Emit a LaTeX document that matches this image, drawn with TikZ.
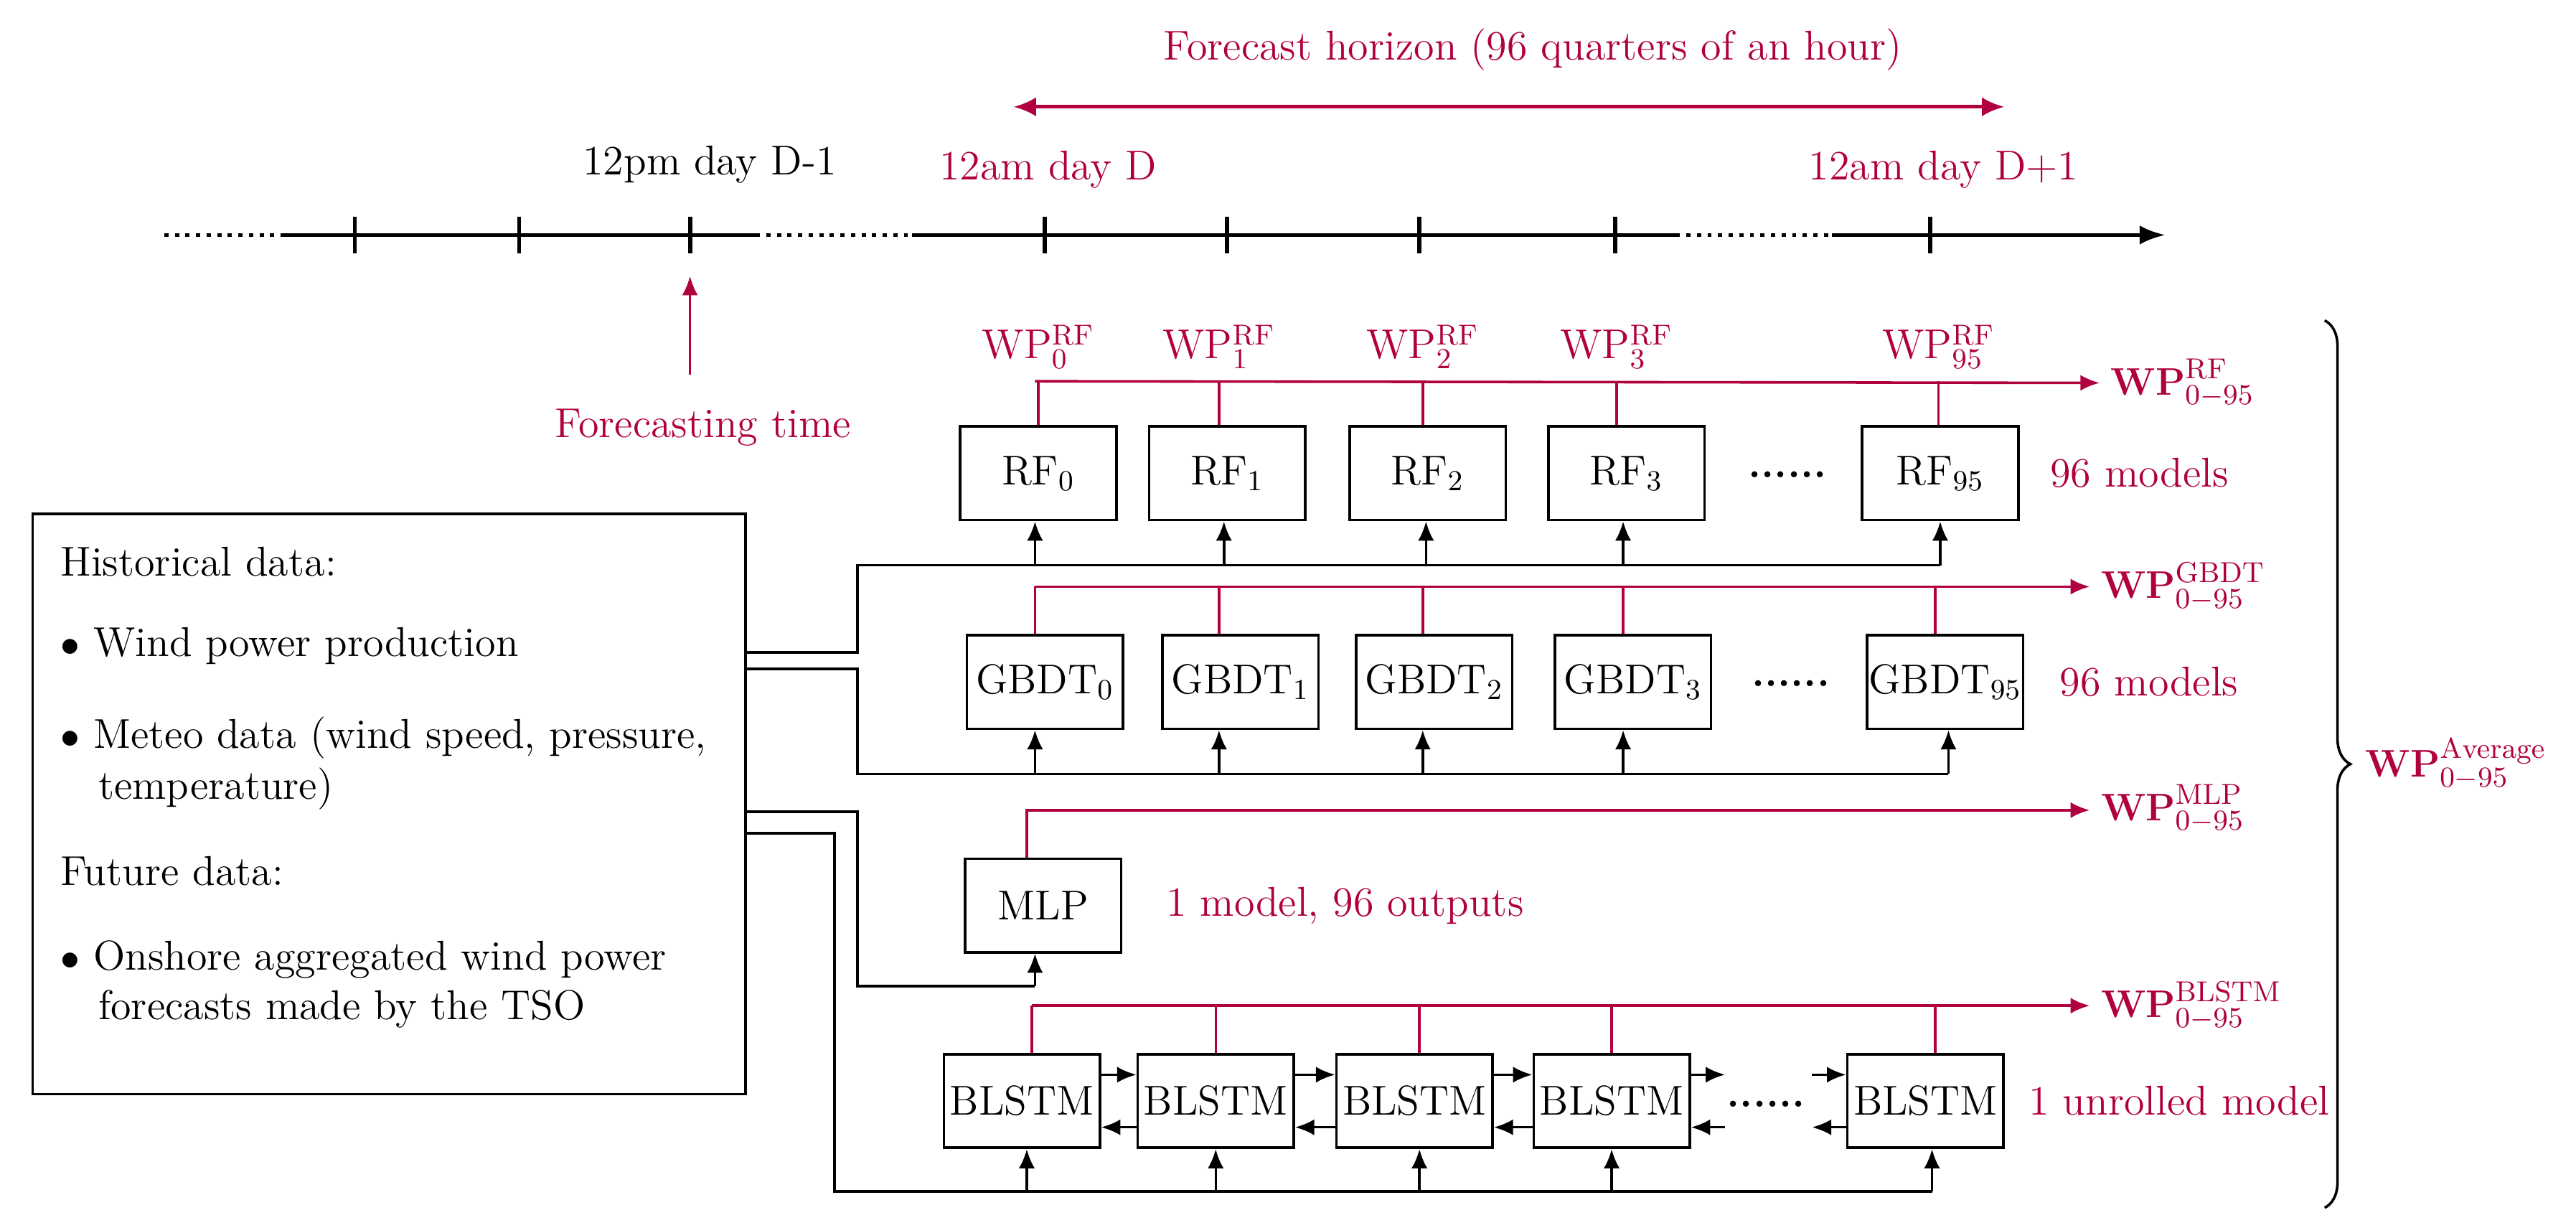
\documentclass[tikz,border=0pt]{standalone}
\usetikzlibrary{arrows.meta,decorations.pathreplacing}
\definecolor{cr}{RGB}{176,0,64}
\begin{document}
\begin{tikzpicture}[x=0.018cm,y=-0.018cm,font=\fontsize{13}{16}\selectfont,
 bx/.style={draw,thick,minimum width=95*0.018cm,minimum height=57*0.018cm,inner sep=0pt},
 rl/.style={cr,thick},
 ar/.style={thick,-{Latex[length=6pt,width=5pt]}},
 tl/.style={line width=1.3pt},
 dt/.style={line width=1.3pt,dotted}]
\useasboundingbox (0,0) rectangle (1568,747);
% timeline
\coordinate (t0) at (100,143); \coordinate (t1) at (173,143); \coordinate (t2) at (460,143);
\coordinate (t3) at (555,143); \coordinate (t4) at (1020,143); \coordinate (t5) at (1115,143);
\coordinate (t6) at (1318,143);
\draw[dt] (t0)--(t1); \draw[tl] (t1)--(t2); \draw[dt] (t2)--(t3); \draw[tl] (t3)--(t4);
\draw[dt] (t4)--(t5); \draw[tl,-{Latex[length=8pt,width=6pt]}] (t5)--(t6);
\foreach \x in {216,316,420,636,747,864,983,1175} \draw[tl] (\x,132)--(\x,154);
\node (l1) at (432,100) {12pm day D-1};
\node[cr] (l2) at (638,103) {12am day D};
\node[cr] (l3) at (1183,103) {12am day D+1};
\coordinate (h0) at (617,65); \coordinate (h1) at (1220,65);
\draw[cr,line width=1.1pt,{Latex[length=7pt,width=6pt]}-{Latex[length=7pt,width=6pt]}] (h0)--(h1);
\node[cr] (hl) at (933,30) {Forecast horizon (96 quarters of an hour)};
\node[cr] (ft) at (428,260) {Forecasting time};
\coordinate (fa) at (420,168);
\draw[ar,cr] (420,228) -- (fa);
% big box
\node[draw,thick,minimum width=434*0.018cm,minimum height=353*0.018cm,anchor=north west,inner sep=0pt] (hb) at (19,312) {};
\node[anchor=west] (h1t) at (30,342) {Historical data:};
\node[anchor=west] (h2t) at (30,393) {$\bullet$\ Wind power production};
\node[anchor=west] (h3t) at (30,449) {$\bullet$\ Meteo data (wind speed, pressure,};
\node[anchor=west] (h4t) at (53,480) {temperature)};
\node[anchor=west] (h5t) at (30,530) {Future data:};
\node[anchor=west] (h6t) at (30,584) {$\bullet$\ Onshore aggregated wind power};
\node[anchor=west] (h7t) at (53,614) {forecasts made by the TSO};
% RF
\foreach \i/\x in {0/632,1/747,2/869,3/990,95/1181} \node[bx] (rf\i) at (\x,288) {RF$_{\i}$};
\node (rfd) at (1088,289) {\textbf{......}};
\foreach \i/\x in {0/632,1/742,2/866,3/984,95/1180} {
 \node[cr] (wrf\i) at (\x,211) {WP$^{\mathrm{RF}}_{\i}$};
 \draw[rl] (rf\i.north -| \x,0) -- (\x,232);}
\node[cr,anchor=west] (WRF) at (1278,233) {$\mathbf{WP}^{\mathrm{RF}}_{0-95}$};
\draw[rl,ar] (630,232) -- (WRF.west);
\node[cr,anchor=west] (mrf) at (1241,288) {96 models};
\draw[thick] (hb.east |- 0,397) -- (522,397) -- (522,344) -- (1181,344);
\foreach \i/\x in {0/630,1/745,2/868,3/988,95/1181} \draw[ar] (\x,344) -- (rf\i.south -| \x,0);
% GBDT
\foreach \i/\x in {0/636,1/755,2/873,3/994,95/1184} \node[bx] (gb\i) at (\x,415) {GBDT$_{\i}$};
\node (gbd) at (1090,416) {\textbf{......}};
\foreach \i/\x in {0/630,1/742,2/866,3/988,95/1178} \draw[rl] (gb\i.north -| \x,0) -- (\x,357);
\node[cr,anchor=west] (WGB) at (1272,357) {$\mathbf{WP}^{\mathrm{GBDT}}_{0-95}$};
\draw[rl,ar] (630,357) -- (WGB.west);
\node[cr,anchor=west] (mgb) at (1247,415) {96 models};
\draw[thick] (hb.east |- 0,407) -- (522,407) -- (522,471) -- (1186,471);
\foreach \i/\x in {0/630,1/742,2/866,3/988,95/1186} \draw[ar] (\x,471) -- (gb\i.south -| \x,0);
% MLP
\node[bx] (mlp) at (635,551) {MLP};
\node[cr,anchor=west] (WML) at (1272,492) {$\mathbf{WP}^{\mathrm{MLP}}_{0-95}$};
\draw[rl,ar] (mlp.north -| 625,0) -- (625,493) -- (WML.west |- 0,493);
\node[cr,anchor=west] (mml) at (703,551) {1 model, 96 outputs};
\draw[thick] (hb.east |- 0,494) -- (522,494) -- (522,600) -- (630,600);
\draw[ar] (630,600) -- (mlp.south -| 630,0);
% BLSTM
\foreach \i/\x in {0/622,1/740,2/861,3/981,4/1172} \node[bx] (bl\i) at (\x,670) {BLSTM};
\node (bld) at (1075,672) {\textbf{......}};
\foreach \i/\x in {0/628,1/740,2/864,3/981,4/1178} \draw[rl] (bl\i.north -| \x,0) -- (\x,612);
\node[cr,anchor=west] (WBL) at (1272,612) {$\mathbf{WP}^{\mathrm{BLSTM}}_{0-95}$};
\draw[rl,ar] (628,612) -- (WBL.west);
\node[cr,anchor=west] (mbl) at (1228,670) {1 unrolled model};
\foreach \a/\b in {0/1,1/2,2/3} {
 \draw[ar] (bl\a.east |- 0,654) -- (bl\b.west |- 0,654);
 \draw[ar] (bl\b.west |- 0,686) -- (bl\a.east |- 0,686);}
\coordinate (c1) at (1050,654); \coordinate (c2) at (1050,686);
\coordinate (c3) at (1103,654); \coordinate (c4) at (1103,686);
\draw[ar] (bl3.east |- c1) -- (c1); \draw[ar] (c2) -- (bl3.east |- c2);
\draw[ar] (c3) -- (bl4.west |- c3); \draw[ar] (bl4.west |- c4) -- (c4);
\draw[thick] (hb.east |- 0,507) -- (508,507) -- (508,725) -- (1176,725);
\foreach \i/\x in {0/625,1/740,2/864,3/981,4/1176} \draw[ar] (\x,725) -- (bl\i.south -| \x,0);
% brace
\coordinate (b0) at (1415,195); \coordinate (b1) at (1415,735);
\draw[thick,decorate,decoration={brace,amplitude=8pt}] (b0) -- (b1);
\node[cr,anchor=west] (WAV) at (1433,465) {$\mathbf{WP}^{\mathrm{Average}}_{0-95}$};
\end{tikzpicture}
\end{document}
